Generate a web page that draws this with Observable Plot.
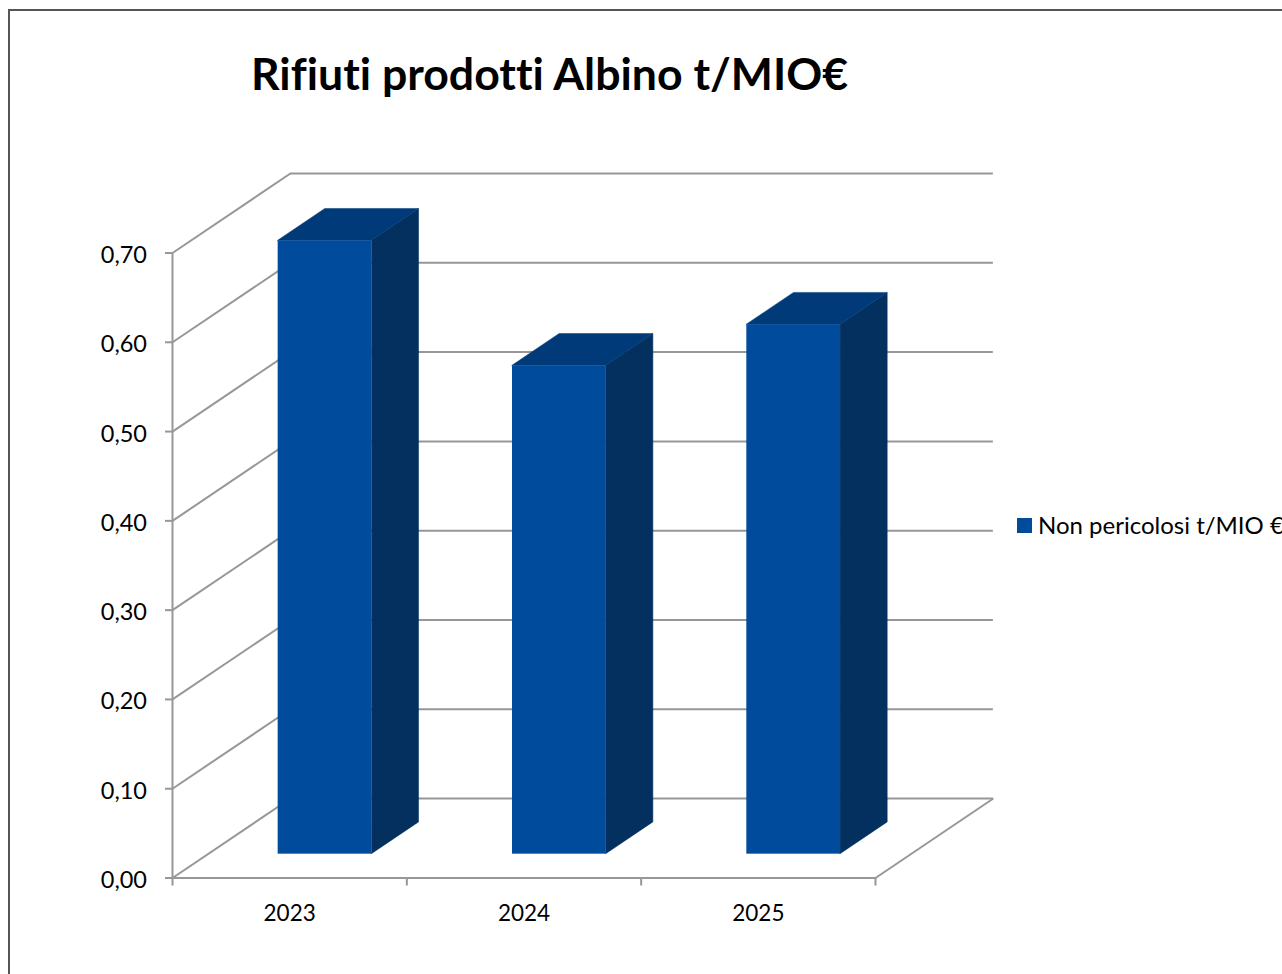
<!DOCTYPE html>
<html lang="it">
<head>
<meta charset="utf-8">
<script src="https://cdn.jsdelivr.net/npm/d3@7"></script>
<script src="https://cdn.jsdelivr.net/npm/@observablehq/plot@0.6"></script>
<style>
  html, body { margin: 0; padding: 0; background: #fff; width: 1282px; height: 974px; overflow: hidden; font-family: Lato, "Open Sans", sans-serif; font-variant-ligatures: none; }
  #border { position: absolute; left: 8px; top: 9px; width: 1400px; height: 1100px; border: 2px solid #555; box-sizing: border-box; pointer-events: none; }
  #title { margin: 0; height: 130px; padding: 47px 0 0 251px; box-sizing: border-box; font-size: 44.6px; line-height: 52px; font-weight: 700; color: #000; white-space: nowrap; }
  #legend { position: absolute; left: 1017px; top: 510px; display: flex; align-items: center; gap: 6px; font-size: 24px; line-height: 30px; color: #000; white-space: nowrap; }
  #legend i { display: block; flex: none; width: 15px; height: 15px; background: #004b9b; }
  svg { display: block; font-variant-ligatures: none; }
</style>
</head>
<body>
<div id="border"></div>
<h1 id="title">Rifiuti prodotti Albino t/MIO€</h1>
<div id="legend"><i></i><span>Non pericolosi t/MIO €</span></div>
<div id="chart"></div>
<script>
const categories = ["2023", "2024", "2025"];
const values = [0.687, 0.547, 0.593];
const yTicks = [0, 0.1, 0.2, 0.3, 0.4, 0.5, 0.6, 0.7];
const categoryEdges = [0, 1, 2, 3];
const categoryCentres = [0.5, 1.5, 2.5];

// oblique projection of the 3D box, in scale units per unit of depth
const depthX = 0.503;
const depthY = 0.089;
const barNear = 0.3;
const barFar = 0.7;

const gridColor = "#979797";
const frontColor = "#004b9b";
const topColor = "#003a78";
const sideColor = "#03305f";

const comma = d => d3.format(".2f")(d).replace(".", ",");

const bars = values.map((v, i) => ({ i, v, name: categories[i] }));
const side = bars.flatMap(b => [barNear, barFar].map(d => ({
  id: b.name,
  x: b.i + barFar + d * depthX,
  y1: d * depthY,
  y2: b.v + d * depthY
})));
const top_ = bars.flatMap(b => [barNear, barFar].map(d => ({
  id: b.name,
  y: b.v + d * depthY,
  x1: b.i + barNear + d * depthX,
  x2: b.i + barFar + d * depthX
})));

const gridStyle = { stroke: gridColor, strokeWidth: 2, strokeOpacity: 1 };
const labelStyle = { fontFamily: "Lato", fill: "#000", label: null };

const plot = Plot.plot({
  width: 1282,
  height: 844,
  marginLeft: 172,
  marginRight: 407,
  marginTop: 122.5,
  marginBottom: 96.5,
  style: { background: "transparent", overflow: "visible" },
  x: { domain: [0, 3] },
  y: { domain: [0, 0.7] },
  marks: [
    // back wall
    Plot.ruleY(yTicks, { y: d => d + depthY, x1: depthX, x2: 3 + depthX, ...gridStyle }),
    // side wall
    Plot.link(yTicks, { x1: 0, y1: d => d, x2: depthX, y2: d => d + depthY, ...gridStyle }),
    // floor
    Plot.link([0], { x1: 3, y1: 0, x2: 3 + depthX, y2: depthY, ...gridStyle }),
    Plot.ruleX([0], { y1: 0, y2: 0.7, ...gridStyle }),
    Plot.ruleY([0], { x1: 0, x2: 3, ...gridStyle }),
    // axes: tick marks, then labels
    Plot.axisY({ ticks: yTicks, tickFormat: () => "", tickSize: 7, ...gridStyle, label: null }),
    Plot.axisY({ ticks: yTicks, tickFormat: comma, tickSize: 0, tickPadding: 25.5, dy: 2.5, fontSize: 23.5, ...labelStyle }),
    Plot.axisX({ ticks: categoryEdges, tickFormat: () => "", tickSize: 8, ...gridStyle, label: null }),
    Plot.axisX({ ticks: categoryCentres, tickFormat: d => categories[Math.floor(d)], tickSize: 0, tickPadding: 27, fontSize: 22.5, ...labelStyle }),
    // bars
    Plot.area(side, { x1: "x", x2: "x", y1: "y1", y2: "y2", z: "id", fill: sideColor, stroke: sideColor, strokeWidth: 0.5 }),
    Plot.area(top_, { y1: "y", y2: "y", x1: "x1", x2: "x2", z: "id", fill: topColor, stroke: topColor, strokeWidth: 0.5 }),
    Plot.rect(bars, {
      x1: d => d.i + barNear + barNear * depthX,
      x2: d => d.i + barFar + barNear * depthX,
      y1: barNear * depthY,
      y2: d => d.v + barNear * depthY,
      fill: frontColor
    })
  ]
});
document.getElementById("chart").appendChild(plot);
</script>
</body>
</html>
